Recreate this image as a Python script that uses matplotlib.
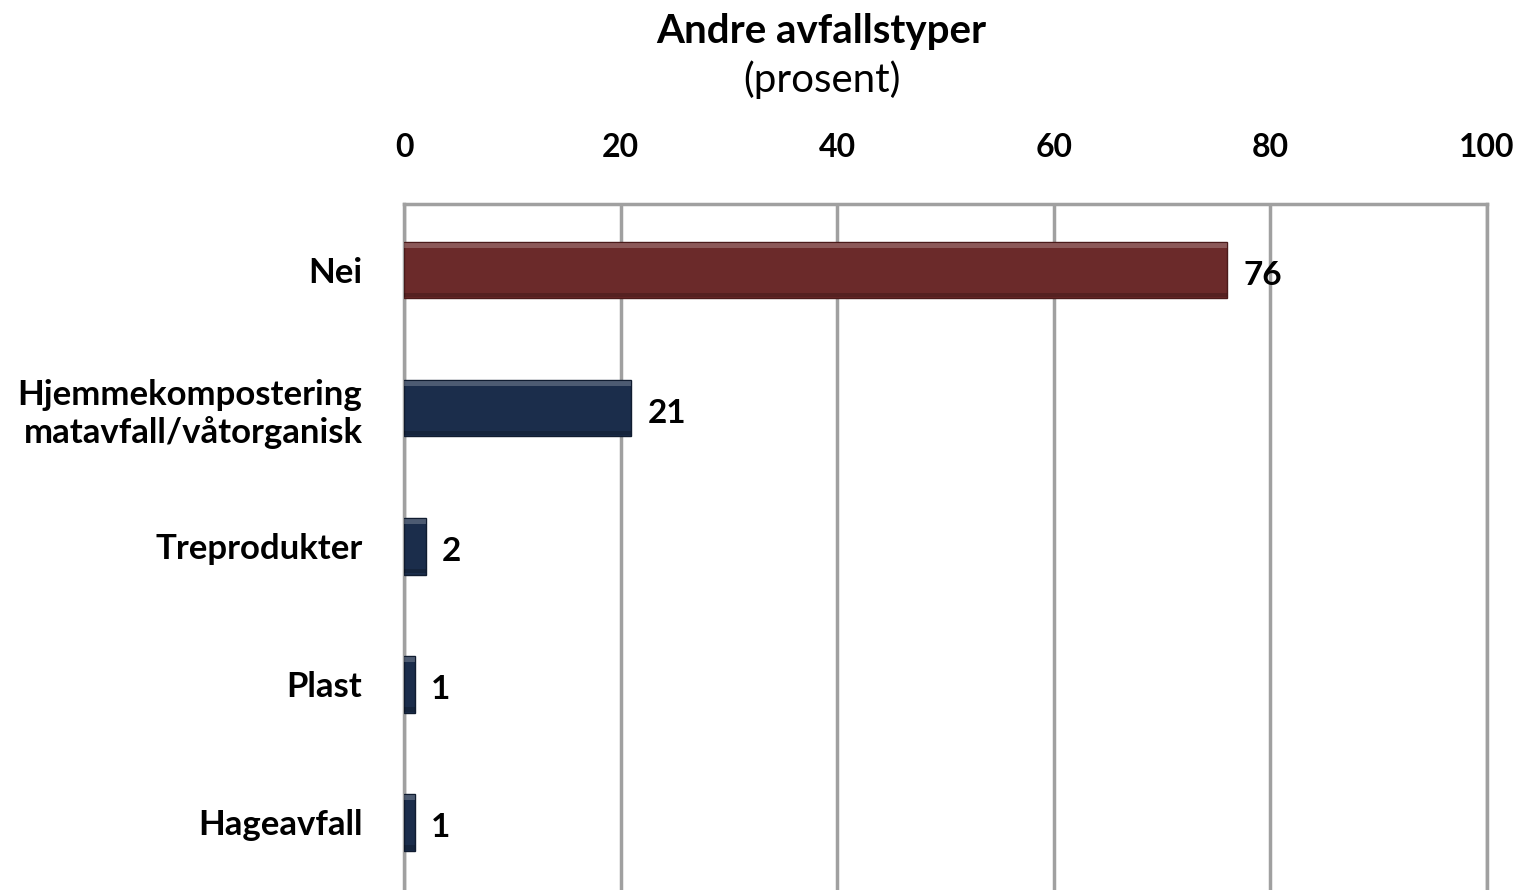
import matplotlib.pyplot as plt

categories = ["Nei", "Hjemmekompostering\nmatavfall/våtorganisk", "Treprodukter", "Plast", "Hageavfall"]
values = [76, 21, 2, 1, 1]
bar_colors = ["#6B2A2A", "#1B2D4B", "#1B2D4B", "#1B2D4B", "#1B2D4B"]
edge_colors = ["#4A1A1A", "#101C30", "#101C30", "#101C30", "#101C30"]
ticks = [0, 20, 40, 60, 80, 100]

plt.rcParams["font.family"] = ["Lato", "DejaVu Sans"]

fig = plt.figure(figsize=(15.19, 8.9), dpi=100)
ax = fig.add_axes([0.266, 0.0, 0.713, 0.771])

pos = list(range(len(categories)))
ax.barh(pos, values, height=0.41, color=bar_colors, edgecolor=edge_colors, linewidth=1.0, zorder=3)
# bevel look: light strip on top, dark strip at bottom
ax.barh([p - 0.18 for p in pos], values, height=0.035, color="white", alpha=0.22, linewidth=0, zorder=4)
ax.barh([p + 0.18 for p in pos], values, height=0.035, color="black", alpha=0.2, linewidth=0, zorder=4)

for p, v in zip(pos, values):
    ax.text(v + 1.5, p + 0.04, str(v), va="center", ha="left", fontsize=24, fontweight="bold", zorder=5)

ax.set_xlim(0, 100)
ax.set_ylim(4.49, -0.48)
ax.set_xticks(ticks)
ax.xaxis.tick_top()
ax.tick_params(axis="x", length=0, pad=30, labelsize=23)
for lbl in ax.get_xticklabels():
    lbl.set_fontweight("bold")
ax.set_yticks(pos)
ax.set_yticklabels(categories, fontsize=25, fontweight="bold", ha="right", linespacing=1.2)
ax.tick_params(axis="y", length=0, pad=30)

ax.grid(axis="x", color="#A0A0A0", linewidth=2.5, zorder=0)
for side in ["top", "left", "right"]:
    ax.spines[side].set_color("#A0A0A0")
    ax.spines[side].set_linewidth(2.5)
ax.spines["bottom"].set_visible(False)

fig.text(0.541, 0.965, "Andre avfallstyper", ha="center", va="center", fontsize=29, fontweight="bold")
fig.text(0.541, 0.91, "(prosent)", ha="center", va="center", fontsize=29)

fig.savefig("out.png", dpi=100)
